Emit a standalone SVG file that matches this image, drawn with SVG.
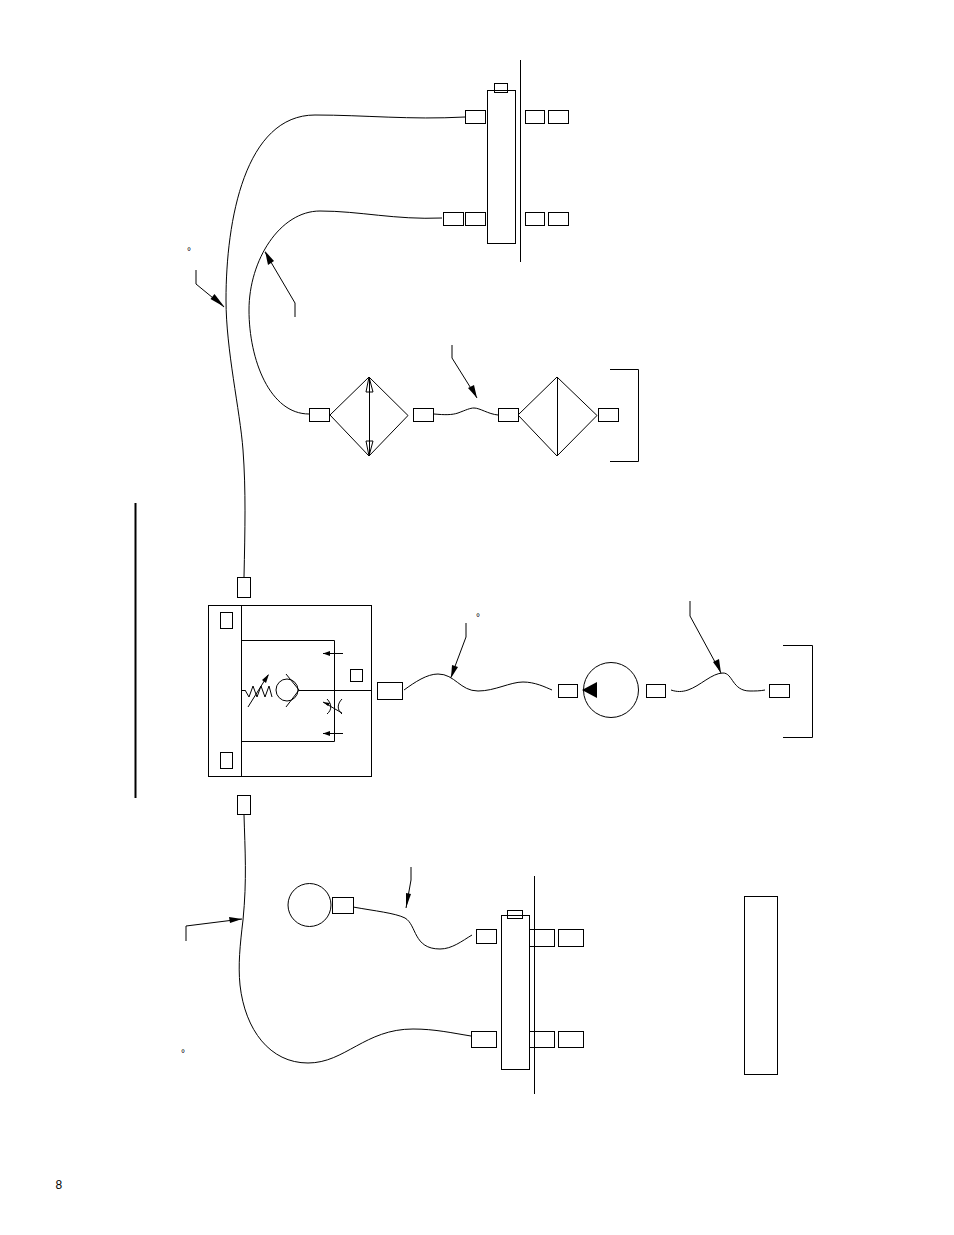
<svg xmlns="http://www.w3.org/2000/svg" width="954" height="1235" viewBox="0 0 954 1235">
<defs>
<style>
.l{fill:none;stroke:#000;stroke-width:1}
.w{fill:#fff;stroke:#000;stroke-width:1}
.h{fill:#000;stroke:none}
.t{font-family:"Liberation Sans",Arial,sans-serif;font-size:12px;fill:#000;opacity:.99}
.d{font-family:"Liberation Sans",Arial,sans-serif;font-size:10px;fill:#000;text-anchor:middle;opacity:.99}
</style>
</defs>
<rect width="954" height="1235" fill="#fff"/>
<g id="connectors">
<path class="l" d="M244 577C245 530 246 490 243 450C240 410 226 350 226 300C226 220 245 115 315 115C365 115 410 120 465 117"/>
<path class="l" d="M309 414C270 414 249 360 249 310C249 260 280 211 320 211C360 211 395 220 442 218"/>
<path class="l" d="M434 414C445 415 452 415 458 413C466 410 470 408 474 408C480 408 488 414 498 415"/>
<path class="l" d="M404 690C415 682 427 674 438 674C455 674 460 691 478 691C495 691 510 682 523 682C535 682 545 687 552 690"/>
<path class="l" d="M671 690C677 692 682 692 688 690C700 686 712 673 723 673C733 673 732 691 750 691C755 691 760 691 765 690"/>
<path class="l" d="M244 815C245 850 247 880 243 920C240 945 238 965 240 985C245 1030 270 1063 308 1063C345 1063 365 1029 413 1029C435 1029 452 1033 471 1036"/>
<path class="l" d="M353 907C375 911 395 913 405 918C417 925 413 949 440 949C452 949 462 941 472 935"/>
<path class="l" d="M196 270V284L224 307"/><polygon class="h" points="224.500,307 210.500,299 214.500,294"/>
<path class="l" d="M295 317V303L265 252"/><polygon class="h" points="265,251 274,261 268,265"/>
<path class="l" d="M452 345V358L477 398"/><polygon class="h" points="477,398 468,388 474,385"/>
<path class="l" d="M466 623V637L451 677"/><polygon class="h" points="451,678 452,665 458,667"/>
<path class="l" d="M690 601V616L721 673"/><polygon class="h" points="721,673 713,662 719,659"/>
<path class="l" d="M411 867V880L406 908"/><polygon class="h" points="406,908 406,893 411,894"/>
<path class="l" d="M186 941V926L242 919"/><polygon class="h" points="242,919 229,917 230,923"/>
</g>
<g id="bar-left"><line x1="135.500" y1="503" x2="135.500" y2="798" stroke="#000" stroke-width="2"/></g>
<g id="manifold-top">
<line class="l" x1="520.500" y1="60" x2="520.500" y2="262"/>
<rect class="w" x="487.500" y="90.500" width="28" height="153"/>
<rect class="l" x="494.500" y="83.500" width="13" height="9"/>
<rect class="w" x="465.500" y="110.500" width="20" height="13"/>
<rect class="w" x="525.500" y="110.500" width="19" height="13"/>
<rect class="w" x="548.500" y="110.500" width="20" height="13"/>
<rect class="w" x="443.500" y="212.500" width="20" height="13"/>
<rect class="w" x="465.500" y="212.500" width="20" height="13"/>
<rect class="w" x="525.500" y="212.500" width="19" height="13"/>
<rect class="w" x="548.500" y="212.500" width="20" height="13"/>
</g>
<g id="filter-a">
<path class="l" d="M330 415L369 377L408 415.500L369 456Z"/>
<line class="l" x1="369.500" y1="378" x2="369.500" y2="455"/>
<path class="l" d="M369 377L366 392H373Z M369 456L366 441H373Z"/>
<rect class="w" x="309.500" y="408.500" width="20" height="13"/>
<rect class="w" x="413.500" y="408.500" width="20" height="13"/>
</g>
<g id="filter-b">
<path class="l" d="M518 415L557 377L597 415.500L557 456Z"/>
<line class="l" x1="557.500" y1="377" x2="557.500" y2="456"/>
<rect class="w" x="498.500" y="408.500" width="20" height="13"/>
<rect class="w" x="598.500" y="408.500" width="20" height="13"/>
<path class="l" d="M610 369.500H638.500V461.500H610"/>
</g>
<g id="valve">
<rect class="w" x="237.500" y="577.500" width="13" height="20"/>
<rect class="w" x="237.500" y="795.500" width="13" height="19"/>
<rect class="w" x="208.500" y="605.500" width="163" height="171"/>
<line class="l" x1="241.500" y1="605" x2="241.500" y2="776"/>
<path class="l" d="M241.500 640.500H334.500V741.500H241.500"/>
<line class="l" x1="241" y1="690.500" x2="245" y2="690.500"/>
<line class="l" x1="299" y1="690.500" x2="371" y2="690.500"/>
<rect class="w" x="220.500" y="612.500" width="12" height="16"/>
<rect class="w" x="220.500" y="752.500" width="12" height="16"/>
<rect class="w" x="350.500" y="669.500" width="12" height="12"/>
<path class="l" d="M245 690L249 697L253 686L257 697L261 686L265 697L269 686L272 697"/>
<line class="l" x1="248" y1="707" x2="268" y2="675"/>
<polygon class="h" points="269,674 262,680 266,683"/>
<circle class="l" cx="287" cy="690" r="11"/>
<path class="l" d="M286 674L299 690L286 707"/>
<line class="l" x1="323" y1="653.500" x2="343" y2="653.500"/><polygon class="h" points="323,653.500 330,651 330,656"/>
<line class="l" x1="323" y1="733.500" x2="343" y2="733.500"/><polygon class="h" points="323,733.500 330,731 330,736"/>
<path class="l" d="M327 699C332 704 332 710 327 714M342 699C337 704 337 710 342 714"/>
<line class="l" x1="323" y1="702" x2="342" y2="713"/>
<polygon class="h" points="323,702 330,703 328,706"/>
<rect class="w" x="377.500" y="682.500" width="25" height="17"/>
</g>
<g id="pump">
<circle class="l" cx="611" cy="690" r="27.500"/>
<polygon class="h" points="582,690 597,682 597,698"/>
<rect class="w" x="558.500" y="684.500" width="19" height="13"/>
<rect class="w" x="646.500" y="684.500" width="19" height="13"/>
<rect class="w" x="769.500" y="684.500" width="20" height="13"/>
<path class="l" d="M783 645.500H812.500V737.500H783"/>
</g>
<g id="gauge">
<circle class="l" cx="309.500" cy="905" r="21.500"/>
<rect class="w" x="332.500" y="897.500" width="21" height="16"/>
</g>
<g id="manifold-bottom">
<line class="l" x1="534.500" y1="876" x2="534.500" y2="1094"/>
<rect class="w" x="501.500" y="915.500" width="28" height="154"/>
<rect class="l" x="507.500" y="910.500" width="15" height="8"/>
<rect class="w" x="476.500" y="929.500" width="20" height="14"/>
<rect class="l" x="529.500" y="929.500" width="25" height="17"/>
<rect class="w" x="558.500" y="929.500" width="25" height="17"/>
<rect class="w" x="471.500" y="1031.500" width="25" height="16"/>
<rect class="l" x="529.500" y="1031.500" width="25" height="16"/>
<rect class="w" x="558.500" y="1031.500" width="25" height="16"/>
</g>
<g id="box-right"><rect class="w" x="744.500" y="896.500" width="33" height="178"/></g>
<text class="d" x="189" y="255">°</text>
<text class="d" x="478" y="621">°</text>
<text class="d" x="183" y="1057">°</text>
<text class="t" x="55.500" y="1189">8</text>
</svg>
